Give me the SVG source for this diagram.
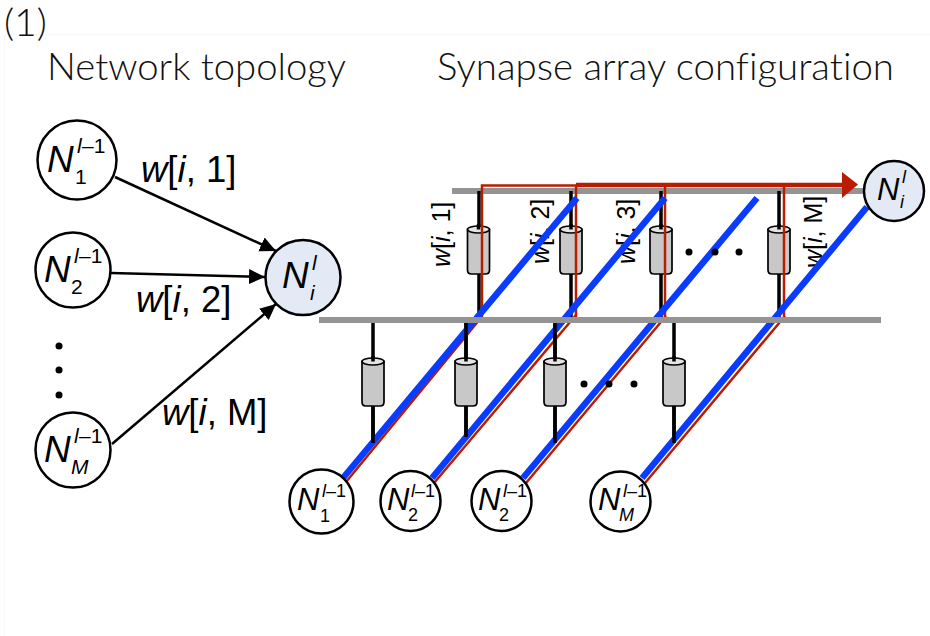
<svg xmlns="http://www.w3.org/2000/svg" xmlns:xlink="http://www.w3.org/1999/xlink" width="930" height="636" viewBox="0 0 930 636">
<style>
text{font-family:"Liberation Sans",Arial,sans-serif;fill:#000}
.ttl{font-family:Lato,"Open Sans",sans-serif;font-weight:300;font-size:37px;fill:#111;font-variant-ligatures:none}
.lbl{font-size:36.500px}
.rot{font-size:25px}
.i{font-style:italic}
.n{fill:#fff;stroke:#000;stroke-width:2.500}
.t{fill:#e3eaf5;stroke:#000;stroke-width:2.500}
.NL{font-style:italic;font-size:37px}
.SL{font-size:21px}
.NS{font-style:italic;font-size:31px}
.SS{font-size:18px}
.bar{stroke:#949494;stroke-width:6;fill:none}
.blk{stroke:#000;stroke-width:3.500;fill:none}
.arw{stroke:#000;stroke-width:2.500;fill:none;marker-end:url(#ah)}
.blu{stroke:#0a3cff;stroke-width:6.500;fill:none}
.red{stroke:#b91c00;stroke-width:2.500;fill:none}
</style>
<defs>
<marker id="ah" markerUnits="userSpaceOnUse" markerWidth="18" markerHeight="16" refX="16" refY="7.500" orient="auto"><path d="M0 0L16 7.500L0 15z" fill="#000"/></marker>
<g id="cyl">
<path d="M-11 3.500V44Q-11 48-7 48H7Q11 48 11 44V3.500Z" fill="#c8c8c8" stroke="#000" stroke-width="1.700"/>
<ellipse cx="0" cy="3.500" rx="11" ry="3.500" fill="#e4e4e4" stroke="#000" stroke-width="1.700"/>
<path d="M0 -2V3.500" stroke="#000" stroke-width="3.500"/>
</g>
</defs>
<rect width="930" height="636" fill="#fff"/>
<path d="M4.500 636V34.500H930" fill="none" stroke="#f8f8f8"/>
<text x="4" y="36" class="ttl" style="font-size:36.500px" textLength="43" lengthAdjust="spacingAndGlyphs">(1)</text>
<text x="47" y="80" class="ttl" textLength="299" lengthAdjust="spacingAndGlyphs">Network topology</text>
<text x="437" y="80" class="ttl" textLength="457" lengthAdjust="spacingAndGlyphs">Synapse array configuration</text>
<g id="connectors">
<g id="array">
<path class="bar" d="M452 191H870"/>
<path class="blk" d="M479 191V320M571 191V320M661 191V320M779 191V320"/>
<path class="blk" d="M373 320V443M466 320V437M555 320V443M674 320V443"/>
<use xlink:href="#cyl" x="478.500" y="226"/><use xlink:href="#cyl" x="571" y="226"/><use xlink:href="#cyl" x="661" y="226"/><use xlink:href="#cyl" x="779" y="226"/>
<use xlink:href="#cyl" x="373" y="358"/><use xlink:href="#cyl" x="466" y="358"/><use xlink:href="#cyl" x="555" y="358"/><use xlink:href="#cyl" x="674" y="358"/>
<text class="rot" transform="translate(450 267) rotate(-90)"><tspan class="i">w</tspan>[<tspan class="i">i</tspan>, 1]</text>
<text class="rot" transform="translate(549 264) rotate(-90)"><tspan class="i">w</tspan>[<tspan class="i">i</tspan>, 2]</text>
<text class="rot" transform="translate(635 264) rotate(-90)"><tspan class="i">w</tspan>[<tspan class="i">i</tspan>, 3]</text>
<text class="rot" transform="translate(822 268) rotate(-90)"><tspan class="i">w</tspan>[<tspan class="i">i</tspan>, M]</text>
<path class="red" d="M346 482L480 319M434 483L576 315M526 483L666 316M645 483L785 316"/>
<path class="red" d="M482 320V185.500H576M576 320V185.500M665 320V185.500M784 320V185.500"/>
<path d="M576 185H845" stroke="#b91c00" stroke-width="4.500" fill="none"/>
<path d="M842 172L858 184.500L842 198z" fill="#b91c00"/>
<path class="blu" d="M343 478L577 198M432 478L665 198M523 478L757 198M642 478L867 207"/>
<path class="blk" d="M466 322V356M555 322V356M373 406V443M466 406V437M555 406V443M674 406V443"/>
<path class="bar" d="M319 320H881"/>
<g fill="#000"><circle cx="689" cy="252" r="3.500"/><circle cx="715" cy="252" r="3.500"/><circle cx="739" cy="252" r="3.500"/><circle cx="584" cy="384" r="3.500"/><circle cx="609" cy="384" r="3.500"/><circle cx="634" cy="384" r="3.500"/></g>
</g>
<path class="arw" d="M115 177L276 251"/>
<path class="arw" d="M111 273L265 277"/>
<path class="arw" d="M112 444L276 304"/>
</g>
<g fill="#000"><circle cx="59" cy="346" r="3.500"/><circle cx="59" cy="370" r="3.500"/><circle cx="59" cy="395" r="3.500"/></g>
<text class="lbl" x="141" y="182"><tspan class="i">w</tspan>[<tspan class="i">i</tspan>, 1]</text>
<text class="lbl" x="136" y="312"><tspan class="i">w</tspan>[<tspan class="i">i</tspan>, 2]</text>
<text class="lbl" x="162" y="425"><tspan class="i">w</tspan>[<tspan class="i">i</tspan>, M]</text>
<g id="n1"><circle class="n" cx="77" cy="160" r="39.500"/><text class="NL" x="47" y="172">N</text><text class="SL i" x="77" y="153">l</text><text class="SL" x="82" y="153">–1</text><text class="SL" x="75" y="184">1</text></g>
<g id="n2"><circle class="n" cx="73" cy="270" r="37.500"/><text class="NL" x="44" y="282">N</text><text class="SL i" x="74" y="263">l</text><text class="SL" x="79" y="263">–1</text><text class="SL" x="71" y="294">2</text></g>
<g id="nm"><circle class="n" cx="73" cy="450" r="37.500"/><text class="NL" x="44" y="462">N</text><text class="SL i" x="74" y="443">l</text><text class="SL" x="79" y="443">–1</text><text class="SL i" x="71" y="474">M</text></g>
<g id="ni"><circle class="t" cx="303" cy="277.500" r="37.500"/><text class="NL" x="282" y="288">N</text><text class="SL i" x="312" y="270">l</text><text class="SL i" x="310" y="300">i</text></g>
<g id="ni-array"><circle class="t" cx="894" cy="191" r="30"/><text class="NS" x="877" y="200">N</text><text class="SS i" x="902" y="183">l</text><text class="SS i" x="900" y="208">i</text></g>
<g id="b1"><circle class="n" cx="321.500" cy="501.500" r="32"/><text class="NS" x="297" y="510">N</text><text class="SS i" x="322" y="497">l</text><text class="SS" x="326" y="497">–1</text><text class="SS" x="320" y="522">1</text></g>
<g id="b2"><circle class="n" cx="410.500" cy="501" r="30"/><text class="NS" x="387" y="510">N</text><text class="SS i" x="411" y="497">l</text><text class="SS" x="415" y="497">–1</text><text class="SS" x="408" y="521">2</text></g>
<g id="b3"><circle class="n" cx="501.500" cy="501" r="30"/><text class="NS" x="478" y="510">N</text><text class="SS i" x="503" y="497">l</text><text class="SS" x="507" y="497">–1</text><text class="SS" x="499" y="521">2</text></g>
<g id="bm"><circle class="n" cx="620.500" cy="501.500" r="30"/><text class="NS" x="598" y="510">N</text><text class="SS i" x="623" y="497">l</text><text class="SS" x="627" y="497">–1</text><text class="SS i" x="619" y="521">M</text></g>
</svg>
